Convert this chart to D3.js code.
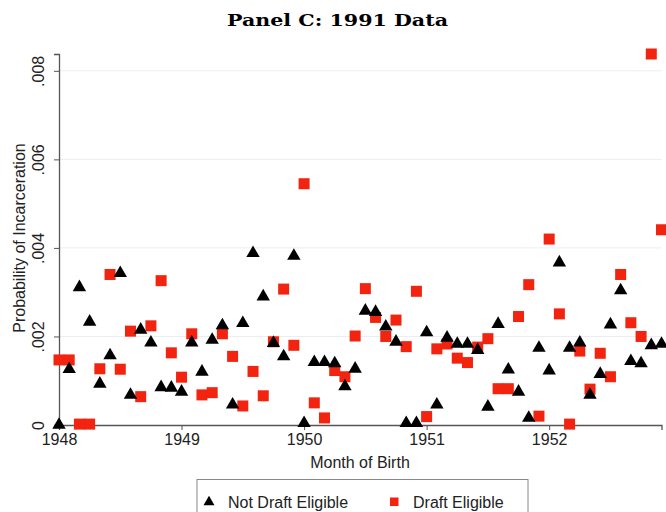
<!DOCTYPE html>
<html>
<head>
<meta charset="utf-8">
<script src="https://cdn.jsdelivr.net/npm/d3@7"></script>
<style>
  body { margin: 0; background: #fff; }
  svg { display: block; }
</style>
</head>
<body>
<div id="chart"></div>
<script>
// months Jan 1948 .. Dec 1952 (x 0.001)
var years = [1948, 1949, 1950, 1951, 1952];
var yTicks = [0, 0.002, 0.004, 0.006, 0.008];
var yTickLabels = ["0", ".002", ".004", ".006", ".008"];

var notEligible = [
    0.00, 1.26, 3.11, 2.33, 0.93, 1.57, 3.43, 0.68, 2.15, 1.86, 0.85, 0.84,
    0.75, 1.86, 1.20, 1.92, 2.25, 0.46, 2.30, 3.88, 2.90, 1.85, 1.55, 3.82,
    0.04, 1.42, 1.42, 1.39, 0.87, 1.27, 2.58, 2.55, 2.22, 1.88, 0.04, 0.04,
    2.09, 0.46, 1.97, 1.83, 1.83, 1.69, 0.41, 2.28, 1.25, 0.75, 0.16, 1.74,
    1.23, 3.67, 1.74, 1.86, 0.68, 1.15, 2.27, 3.04, 1.44, 1.39, 1.80, 1.83
];
var draftEligible = [
    1.47, 1.47, 0.02, 0.02, 1.27, 3.40, 1.26, 2.12, 0.64, 2.24, 3.26, 1.63,
    1.08, 2.06, 0.68, 0.73, 2.06, 1.55, 0.43, 1.21, 0.66, 1.88, 3.07, 1.80,
    5.45, 0.50, 0.16, 1.23, 1.09, 2.01, 3.08, 2.43, 2.00, 2.37, 1.77, 3.02,
    0.19, 1.72, 1.83, 1.51, 1.41, 1.76, 1.95, 0.82, 0.82, 2.45, 3.17, 0.20,
    4.20, 2.51, 0.02, 1.67, 0.81, 1.62, 1.09, 3.40, 2.31, 2.00, 8.38, 4.41
];

var W = 666, H = 512;
var margin = {top: 54, right: 4, bottom: 87, left: 59};
var fs = "16px";

var svg = d3.select("#chart").append("svg")
    .attr("width", W)
    .attr("height", H)
    .style("font-family", "'Liberation Sans', Arial, sans-serif");

var toPoints = function(arr){
    return arr.map(function(v, i){ return {t: 1948 + i / 12, v: v / 1000}; });
};
var triData = toPoints(notEligible);
var sqData = toPoints(draftEligible);

var x = d3.scaleLinear()
    .domain([1948, 1948 + 59 / 12])
    .range([margin.left, 661.5]);

var y = d3.scaleLinear()
    .domain([0, 0.00838])
    .range([425, margin.top]);

// title
svg.append("text")
    .attr("x", 337.5)
    .attr("y", 26)
    .attr("text-anchor", "middle")
    .attr("textLength", 221)
    .attr("lengthAdjust", "spacingAndGlyphs")
    .style("font-family", "'DejaVu Serif', serif")
    .style("font-weight", "bold")
    .style("font-size", "17px")
    .text("Panel C: 1991 Data");

// gridlines
svg.append("g")
    .selectAll("line")
    .data(yTicks.slice(1))
    .enter().append("line")
    .attr("x1", x.range()[0])
    .attr("x2", x.range()[1])
    .attr("y1", function(d){ return y(d); })
    .attr("y2", function(d){ return y(d); })
    .attr("stroke", "#eaeef1")
    .attr("stroke-width", 1);

// y axis
var yAxis = d3.axisLeft(y)
    .tickValues(yTicks)
    .tickSize(5)
    .tickFormat(function(d, i){ return yTickLabels[i]; });

var gy = svg.append("g")
    .attr("transform", "translate(" + margin.left + ",0)")
    .call(yAxis);
gy.select(".domain").attr("stroke", "#555").attr("stroke-width", 1.3);
gy.selectAll(".tick line").attr("stroke", "#555");
gy.selectAll(".tick text")
    .attr("x", null).attr("dy", null)
    .attr("transform", "translate(-21,0) rotate(-90)")
    .attr("text-anchor", "middle")
    .attr("dy", "0.35em")
    .style("font-size", fs)
    .attr("fill", "#222");

// x axis
var xAxis = d3.axisBottom(x)
    .tickValues(years)
    .tickSize(5)
    .tickFormat(d3.format("d"));

var gx = svg.append("g")
    .attr("transform", "translate(0,425)")
    .call(xAxis);
gx.select(".domain").attr("stroke", "#555").attr("stroke-width", 1.3);
gx.selectAll(".tick line").attr("stroke", "#555");
gx.selectAll(".tick text")
    .attr("y", 9)
    .style("font-size", fs)
    .attr("fill", "#222");

// axis titles
svg.append("text")
    .attr("transform", "translate(19,238) rotate(-90)")
    .attr("text-anchor", "middle")
    .attr("dy", "0.35em")
    .style("font-size", fs)
    .attr("fill", "#222")
    .text("Probability of Incarceration");

svg.append("text")
    .attr("x", 360)
    .attr("y", 462)
    .attr("dy", "0.35em")
    .attr("text-anchor", "middle")
    .style("font-size", fs)
    .attr("fill", "#222")
    .text("Month of Birth");

// markers
var tri = d3.symbol().type(d3.symbolTriangle).size(78);
var red = "#f2230f";

svg.append("g")
    .selectAll("rect")
    .data(sqData)
    .enter().append("rect")
    .attr("x", function(d){ return x(d.t) - 5.5; })
    .attr("y", function(d){ return y(d.v) - 5.5; })
    .attr("width", 11)
    .attr("height", 11)
    .attr("fill", red);

svg.append("g")
    .selectAll("path")
    .data(triData)
    .enter().append("path")
    .attr("d", tri)
    .attr("transform", function(d){ return "translate(" + x(d.t) + "," + y(d.v) + ")"; })
    .attr("fill", "#000");

// legend
var legend = svg.append("g");
legend.append("rect")
    .attr("x", 197)
    .attr("y", 479.5)
    .attr("width", 331)
    .attr("height", 40)
    .attr("fill", "#fff")
    .attr("stroke", "#888")
    .attr("stroke-width", 1);

legend.append("path")
    .attr("d", d3.symbol().type(d3.symbolTriangle).size(52))
    .attr("transform", "translate(209,502)")
    .attr("fill", "#000");
legend.append("text")
    .attr("x", 228)
    .attr("y", 502)
    .attr("dy", "0.35em")
    .style("font-size", fs)
    .attr("fill", "#222")
    .text("Not Draft Eligible");

legend.append("rect")
    .attr("x", 390)
    .attr("y", 497.5)
    .attr("width", 8.5)
    .attr("height", 8.5)
    .attr("fill", red);
legend.append("text")
    .attr("x", 413)
    .attr("y", 502)
    .attr("dy", "0.35em")
    .style("font-size", fs)
    .attr("fill", "#222")
    .text("Draft Eligible");
</script>
</body>
</html>
